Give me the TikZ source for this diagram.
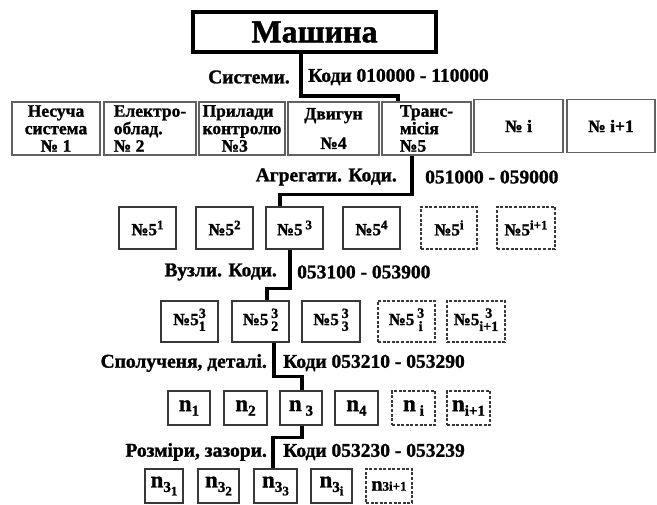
\documentclass[tikz,border=0pt]{standalone}
\usepackage{fontspec}
\setmainfont{Liberation Serif}[BoldFeatures={FakeBold=1.3}]
\usetikzlibrary{calc}

% superscript, subscript and stacked index in the bold text face
\newcommand\upidx[1]{\raisebox{6pt}{\fontsize{13}{13}\selectfont #1}}
\newcommand\dnidx[1]{\raisebox{-4.5pt}{\fontsize{15}{15}\selectfont #1}}
\newcommand\ddidx[1]{\raisebox{-3.5pt}{\fontsize{13}{13}\selectfont #1}}
\newcommand\stkidx[2]{{\fontsize{14}{12}\selectfont\begin{tabular}{@{}c@{}}#1\\#2\end{tabular}}}

\tikzset{
  topbox/.style={draw=black, line width=4pt, inner sep=0pt,
    minimum width=243pt, minimum height=40pt,
    font=\fontsize{32}{32}\selectfont\bfseries},
  sysbox/.style={draw=black!62, line width=1.7pt, inner sep=0pt,
    minimum height=53pt, font=\fontsize{17.5}{17.5}\selectfont\bfseries},
  unitbox/.style={draw=black!78, line width=1.2pt, inner sep=0pt,
    font=\fontsize{17}{17}\selectfont\bfseries},
  dashbox/.style={unitbox, dash pattern=on 3pt off 1.6pt, line width=1.4pt},
  row2/.style={minimum width=57pt, minimum height=42pt},
  row3/.style={minimum width=57pt, minimum height=41pt},
  row4/.style={minimum width=43pt, minimum height=34pt,
    font=\fontsize{23}{23}\selectfont\bfseries},
  row5/.style={minimum width=42pt, minimum height=34pt,
    font=\fontsize{23}{23}\selectfont\bfseries},
  lvl/.style={inner sep=0pt, font=\fontsize{19.5}{19.5}\selectfont\bfseries},
  link/.style={draw=black, line width=3.5pt}
}

\begin{document}
\begin{tikzpicture}[x=1pt,y=-1pt]
\useasboundingbox[fill=white] (0,0) rectangle (657,505);

% whole machine
\node[topbox] (m) at (314.5,32) {Машина};

% systems
\node[lvl] (t1a) at (249,77) {Системи.};
\node[lvl, anchor=west] (t1b) at (308,77) {Коди 010000 - 110000};
\node[sysbox, minimum width=88pt, align=center] (s1) at (56,128.5) {Несуча\\система\\№ 1};
\node[sysbox, minimum width=92pt, align=left] (s2) at (150,128.5) {Електро-\\облад.\\№ 2};
\node[sysbox, minimum width=86pt, align=left] (s3) at (242,128.5) {Прилади\\контролю\\\hspace*{19pt}№3};
\node[sysbox, minimum width=91pt, align=center] (s4) at (333.5,128.5) {Двигун\\[12pt]№4};
\node[sysbox, minimum width=89pt, align=left] (s5) at (426.5,128.5) {Транс-\\місія\\№5};
\node[sysbox, minimum width=89pt] (s6) at (518.5,126) {№ i};
\node[sysbox, minimum width=88pt] (s7) at (611,126) {№ i+1};

% assemblies
\node[lvl, anchor=east] (t2a) at (397,177) {Агрегати. Коди.};
\node[lvl, anchor=west] (t2b) at (425,177) {051000 - 059000};
\node[unitbox, row2] (a1) at (147.5,228) {№5\upidx{1}};
\node[unitbox, row2] (a2) at (224.5,228) {№5\upidx{2}};
\node[unitbox, row2] (a3) at (294.5,228) {№5\,\upidx{3}};
\node[unitbox, row2] (a4) at (371.5,228) {№5\upidx{4}};
\node[dashbox, row2, minimum width=56pt] (a5) at (449,228) {№5\upidx{i}};
\node[dashbox, row2, minimum width=58pt] (a6) at (526,228) {№5\upidx{i+1}};

% units
\node[lvl, anchor=east] (t3a) at (277,272) {Вузли. Коди.};
\node[lvl, anchor=west] (t3b) at (297,272) {053100 - 053900};
\node[unitbox, row3] (u1) at (189.5,321.5) {№5\stkidx{3}{1}};
\node[unitbox, row3] (u2) at (260.5,321.5) {№5\,\stkidx{3}{2}};
\node[unitbox, row3, minimum width=58pt] (u3) at (331,321.5) {№5\,\stkidx{3}{3}};
\node[dashbox, row3] (u4) at (406.5,321.5) {№5\,\stkidx{3}{i}};
\node[dashbox, row3, minimum width=58pt] (u5) at (476,321.5) {№5\stkidx{3}{i+1}};

% joints and parts
\node[lvl, anchor=east] (t4a) at (267,363) {Сполученя, деталі.};
\node[lvl, anchor=west] (t4b) at (283,363) {Коди 053210 - 053290};
\node[unitbox, row4, minimum width=42pt] (n1) at (189,408) {n\dnidx{1}};
\node[unitbox, row4] (n2) at (245.5,408) {n\dnidx{2}};
\node[unitbox, row4, minimum width=42pt] (n3) at (301,408) {n\,\dnidx{3}};
\node[unitbox, row4] (n4) at (356.5,408) {n\dnidx{4}};
\node[dashbox, row4] (n5) at (413.5,408) {n\,\dnidx{i}};
\node[dashbox, row4] (n6) at (468.5,408) {n\dnidx{i+1}};

% sizes and clearances
\node[lvl, anchor=east] (t5a) at (267,452) {Розміри, зазори.};
\node[lvl, anchor=west] (t5b) at (283,452) {Коди 053230 - 053239};
\node[unitbox, row5, minimum width=38pt] (d1) at (164,486) {n\dnidx{3\ddidx{1}}};
\node[unitbox, row5, minimum width=41pt] (d2) at (218.5,486) {n\dnidx{3\ddidx{2}}};
\node[unitbox, row5, minimum width=43pt] (d3) at (275.5,486) {n\dnidx{3\ddidx{3}}};
\node[unitbox, row5, minimum width=41pt] (d4) at (331.5,486) {n\dnidx{3\ddidx{i}}};
\node[dashbox, row5, minimum width=46pt, font=\fontsize{20}{20}\selectfont\bfseries] (d5) at (389,486) {n{\fontsize{13}{13}\selectfont 3i+1}};

% path through the hierarchy
\draw[link] ($(m.south)+(-13.5,0)$) -- ++(0,42) -| ($(s5.north)+(-28.5,0)$);
\draw[link] ($(s5.south)+(-14.5,0)$) -- ++(0,38.5) -| ($(a3.north)+(-14.5,0)$);
\draw[link] ($(a3.south)+(-4.5,0)$) -- ++(0,39) -| ($(u2.north)+(6.5,0)$);
\draw[link] ($(u2.south)+(13.5,0)$) -- ++(0,34) -| ($(n3.north)+(1,0)$);
\draw[link] ($(n3.south)+(1,0)$) -- ++(0,12) -| ($(d3.north)+(-2.5,0)$);
\end{tikzpicture}
\end{document}
